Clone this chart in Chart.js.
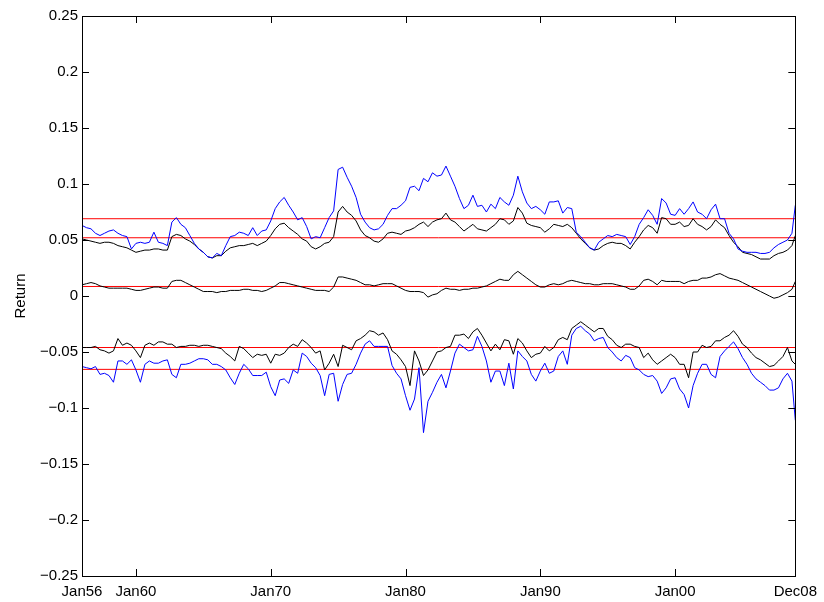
<!DOCTYPE html>
<html>
<head>
<meta charset="utf-8">
<script src="https://cdn.jsdelivr.net/npm/chart.js@4.4.1/dist/chart.umd.min.js"></script>
<style>
  html, body { margin: 0; padding: 0; background: #fff; }
  #wrap { width: 824px; height: 602px; }
</style>
</head>
<body>
<div id="wrap"><canvas id="chart" width="824" height="602"></canvas></div>
<script>
// months since Jan56, one sample every 4 months (last one is Dec08)
var tickMonths = [0, 48, 168, 288, 408, 528, 635];
var tickNames = ['Jan56', 'Jan60', 'Jan70', 'Jan80', 'Jan90', 'Jan00', 'Dec08'];

var blueUp = [
  0.063,0.061,0.060,0.056,0.054,0.056,0.058,0.059,0.056,0.054,0.053,0.042,0.047,0.048,0.047,0.048,0.057,0.048,0.047,0.045,
  0.066,0.070,0.064,0.061,0.054,0.047,0.042,0.039,0.035,0.034,0.038,0.036,0.045,0.053,0.054,0.057,0.056,0.054,0.061,0.054,
  0.058,0.059,0.067,0.078,0.084,0.088,0.081,0.075,0.068,0.070,0.062,0.051,0.053,0.052,0.061,0.070,0.076,0.113,0.115,0.106,
  0.098,0.088,0.073,0.066,0.061,0.059,0.060,0.064,0.072,0.078,0.078,0.081,0.085,0.097,0.098,0.094,0.105,0.102,0.110,0.107,
  0.108,0.116,0.107,0.098,0.087,0.078,0.081,0.090,0.080,0.081,0.075,0.082,0.078,0.088,0.084,0.081,0.090,0.107,0.093,0.083,
  0.078,0.080,0.077,0.073,0.084,0.084,0.085,0.074,0.079,0.078,0.057,0.053,0.048,0.043,0.041,0.048,0.051,0.054,0.053,0.055,
  0.054,0.053,0.046,0.053,0.064,0.070,0.077,0.072,0.064,0.087,0.083,0.073,0.072,0.078,0.073,0.078,0.084,0.075,0.073,0.069,
  0.077,0.082,0.069,0.069,0.056,0.051,0.042,0.040,0.039,0.039,0.039,0.038,0.038,0.039,0.043,0.046,0.048,0.050,0.056,0.081
];
var blackUp = [
  0.051,0.050,0.049,0.048,0.047,0.048,0.048,0.047,0.045,0.044,0.043,0.041,0.039,0.040,0.041,0.041,0.042,0.042,0.041,0.041,
  0.053,0.055,0.054,0.051,0.049,0.046,0.042,0.039,0.035,0.034,0.036,0.036,0.040,0.043,0.044,0.045,0.045,0.046,0.047,0.045,
  0.047,0.049,0.054,0.060,0.064,0.065,0.061,0.058,0.055,0.051,0.049,0.044,0.042,0.044,0.047,0.048,0.053,0.075,0.080,0.075,
  0.072,0.067,0.059,0.054,0.052,0.049,0.048,0.051,0.056,0.057,0.056,0.055,0.058,0.059,0.061,0.064,0.066,0.062,0.066,0.068,
  0.069,0.074,0.068,0.066,0.062,0.058,0.061,0.064,0.060,0.059,0.058,0.061,0.064,0.069,0.068,0.064,0.067,0.079,0.074,0.065,
  0.063,0.062,0.061,0.057,0.060,0.064,0.063,0.062,0.064,0.061,0.056,0.051,0.047,0.043,0.041,0.042,0.045,0.047,0.048,0.047,
  0.047,0.045,0.042,0.048,0.053,0.059,0.063,0.061,0.056,0.070,0.069,0.064,0.064,0.066,0.062,0.063,0.069,0.064,0.062,0.059,
  0.062,0.068,0.064,0.061,0.054,0.048,0.044,0.039,0.038,0.037,0.035,0.033,0.033,0.033,0.036,0.038,0.039,0.041,0.045,0.054
];
var blackMid = [
  0.010,0.011,0.012,0.011,0.009,0.008,0.007,0.007,0.007,0.007,0.007,0.006,0.005,0.005,0.006,0.007,0.008,0.008,0.007,0.007,
  0.013,0.014,0.014,0.012,0.010,0.008,0.006,0.004,0.004,0.004,0.003,0.004,0.004,0.005,0.005,0.005,0.006,0.006,0.005,0.005,
  0.004,0.005,0.007,0.009,0.012,0.012,0.011,0.010,0.009,0.008,0.007,0.006,0.005,0.005,0.005,0.004,0.008,0.017,0.017,0.016,
  0.015,0.014,0.012,0.010,0.010,0.009,0.010,0.011,0.011,0.011,0.009,0.007,0.005,0.004,0.004,0.004,0.003,-0.001,0.001,0.002,
  0.005,0.007,0.006,0.006,0.005,0.006,0.006,0.007,0.007,0.008,0.009,0.011,0.013,0.015,0.014,0.014,0.019,0.022,0.019,0.016,
  0.013,0.010,0.008,0.008,0.010,0.011,0.010,0.011,0.013,0.014,0.013,0.012,0.011,0.011,0.010,0.010,0.011,0.011,0.011,0.010,
  0.009,0.008,0.006,0.006,0.009,0.014,0.015,0.013,0.010,0.014,0.013,0.013,0.013,0.013,0.011,0.013,0.014,0.014,0.016,0.016,
  0.017,0.019,0.020,0.018,0.016,0.015,0.014,0.012,0.010,0.008,0.006,0.004,0.002,0.000,-0.002,-0.001,0.001,0.003,0.006,0.013
];
var blackLow = [
  -0.046,-0.046,-0.046,-0.045,-0.048,-0.049,-0.051,-0.049,-0.038,-0.044,-0.042,-0.044,-0.049,-0.055,-0.044,-0.042,-0.044,-0.041,-0.041,-0.043,
  -0.043,-0.046,-0.045,-0.045,-0.044,-0.044,-0.045,-0.044,-0.044,-0.045,-0.046,-0.047,-0.051,-0.054,-0.058,-0.045,-0.047,-0.051,-0.055,-0.052,
  -0.053,-0.052,-0.060,-0.052,-0.053,-0.051,-0.046,-0.043,-0.045,-0.039,-0.042,-0.046,-0.051,-0.049,-0.066,-0.060,-0.052,-0.063,-0.044,-0.046,
  -0.048,-0.040,-0.038,-0.035,-0.031,-0.032,-0.035,-0.033,-0.039,-0.049,-0.052,-0.057,-0.063,-0.080,-0.049,-0.058,-0.071,-0.066,-0.058,-0.050,
  -0.049,-0.046,-0.045,-0.035,-0.035,-0.034,-0.038,-0.032,-0.029,-0.035,-0.042,-0.049,-0.043,-0.048,-0.039,-0.040,-0.052,-0.038,-0.042,-0.049,
  -0.055,-0.052,-0.051,-0.045,-0.049,-0.046,-0.039,-0.037,-0.039,-0.029,-0.026,-0.023,-0.026,-0.029,-0.032,-0.029,-0.029,-0.036,-0.039,-0.044,
  -0.046,-0.043,-0.043,-0.045,-0.046,-0.055,-0.051,-0.057,-0.061,-0.058,-0.055,-0.052,-0.055,-0.061,-0.061,-0.073,-0.050,-0.050,-0.044,-0.046,
  -0.045,-0.040,-0.040,-0.037,-0.035,-0.031,-0.036,-0.043,-0.046,-0.051,-0.055,-0.057,-0.060,-0.063,-0.062,-0.058,-0.054,-0.046,-0.058,-0.061
];
var blueLow = [
  -0.063,-0.064,-0.065,-0.063,-0.070,-0.069,-0.071,-0.077,-0.058,-0.058,-0.061,-0.057,-0.066,-0.077,-0.061,-0.058,-0.060,-0.060,-0.058,-0.057,
  -0.070,-0.073,-0.061,-0.061,-0.060,-0.058,-0.056,-0.056,-0.057,-0.061,-0.061,-0.063,-0.066,-0.073,-0.079,-0.069,-0.061,-0.065,-0.071,-0.071,
  -0.071,-0.068,-0.081,-0.089,-0.075,-0.074,-0.078,-0.066,-0.069,-0.051,-0.054,-0.060,-0.064,-0.071,-0.089,-0.070,-0.069,-0.094,-0.079,-0.070,
  -0.069,-0.061,-0.051,-0.043,-0.040,-0.045,-0.045,-0.045,-0.045,-0.062,-0.069,-0.074,-0.089,-0.102,-0.092,-0.064,-0.122,-0.094,-0.086,-0.077,
  -0.070,-0.082,-0.067,-0.051,-0.043,-0.046,-0.049,-0.048,-0.036,-0.045,-0.058,-0.077,-0.067,-0.067,-0.080,-0.060,-0.083,-0.049,-0.054,-0.058,
  -0.070,-0.076,-0.067,-0.060,-0.069,-0.067,-0.054,-0.049,-0.061,-0.035,-0.029,-0.027,-0.031,-0.034,-0.040,-0.038,-0.037,-0.046,-0.050,-0.055,
  -0.058,-0.053,-0.055,-0.064,-0.066,-0.070,-0.072,-0.071,-0.076,-0.087,-0.082,-0.074,-0.073,-0.083,-0.088,-0.100,-0.080,-0.069,-0.061,-0.061,
  -0.070,-0.073,-0.054,-0.049,-0.045,-0.041,-0.047,-0.055,-0.061,-0.069,-0.074,-0.077,-0.080,-0.084,-0.084,-0.082,-0.074,-0.069,-0.076,-0.111
];
// horizontal reference levels
var redLevels = [0.069, 0.052, 0.0085, -0.046, -0.0655];

var sampleMonths = blueUp.map(function(_, i){ return Math.min(i * 4, 635); });

function toPoints(values){
    return values.map(function(v, i){ return { x: sampleMonths[i], y: v }; });
}

function lineSet(values, color){
    return {
        data: toPoints(values),
        borderColor: color,
        borderWidth: 1,
        pointRadius: 0,
        tension: 0,
        fill: false
    };
}

var datasets = [
    lineSet(blueUp, '#0000ff'),
    lineSet(blackUp, '#000000'),
    lineSet(blackMid, '#000000'),
    lineSet(blackLow, '#000000'),
    lineSet(blueLow, '#0000ff')
];
redLevels.forEach(function(lvl){
    datasets.push({
        data: [{ x: 0, y: lvl }, { x: 635, y: lvl }],
        borderColor: '#ff0000',
        borderWidth: 1,
        pointRadius: 0,
        fill: false
    });
});

// matlab style box with ticks pointing inward
var boxTicks = {
    id: 'boxTicks',
    afterDatasetsDraw: function(chart){
        var ctx = chart.ctx;
        var a = chart.chartArea;
        var xs = chart.scales.x, ys = chart.scales.y;
        var len = 7;
        ctx.save();
        ctx.strokeStyle = '#000';
        ctx.lineWidth = 1;
        ctx.beginPath();
        ys.ticks.forEach(function(t){
            var y = Math.round(ys.getPixelForValue(t.value)) + 0.5;
            ctx.moveTo(a.left, y); ctx.lineTo(a.left + len, y);
            ctx.moveTo(a.right, y); ctx.lineTo(a.right - len, y);
        });
        tickMonths.forEach(function(m){
            var x = Math.round(xs.getPixelForValue(m)) + 0.5;
            ctx.moveTo(x, a.bottom); ctx.lineTo(x, a.bottom - len);
            ctx.moveTo(x, a.top); ctx.lineTo(x, a.top + len);
        });
        ctx.stroke();
        ctx.strokeRect(Math.round(a.left) + 0.5, Math.round(a.top) + 0.5,
                       Math.round(a.right - a.left), Math.round(a.bottom - a.top));
        ctx.restore();
    }
};

Chart.defaults.font.family = '"Liberation Sans", Arial, Helvetica, sans-serif';
Chart.defaults.color = '#000';

new Chart(document.getElementById('chart'), {
    type: 'line',
    data: { datasets: datasets },
    options: {
        responsive: false,
        animation: false,
        layout: { padding: { left: 0, right: 27, top: 16, bottom: 0 } },
        plugins: {
            legend: { display: false },
            tooltip: { enabled: false }
        },
        scales: {
            x: {
                type: 'linear',
                min: 0,
                max: 635,
                afterBuildTicks: function(scale){
                    scale.ticks = tickMonths.map(function(m){ return { value: m }; });
                },
                afterFit: function(scale){ scale.height = 26; },
                grid: { drawOnChartArea: false, drawTicks: false },
                border: { display: false },
                ticks: {
                    autoSkip: false,
                    maxRotation: 0,
                    padding: 7,
                    font: { size: 15 },
                    callback: function(v){
                        var i = tickMonths.indexOf(v);
                        return i >= 0 ? tickNames[i] : '';
                    }
                }
            },
            y: {
                min: -0.25,
                max: 0.25,
                afterFit: function(scale){ scale.width = 82; },
                grid: { drawOnChartArea: false, drawTicks: false },
                border: { display: false },
                title: {
                    display: true,
                    text: 'Return',
                    font: { size: 15 },
                    padding: { top: 12, bottom: 0 }
                },
                ticks: {
                    stepSize: 0.05,
                    padding: 4,
                    font: { size: 15 },
                    callback: function(v){
                        var s = String(parseFloat(v.toFixed(2)));
                        return s.replace('-', '\u2212');
                    }
                }
            }
        }
    },
    plugins: [boxTicks]
});
</script>
</body>
</html>
